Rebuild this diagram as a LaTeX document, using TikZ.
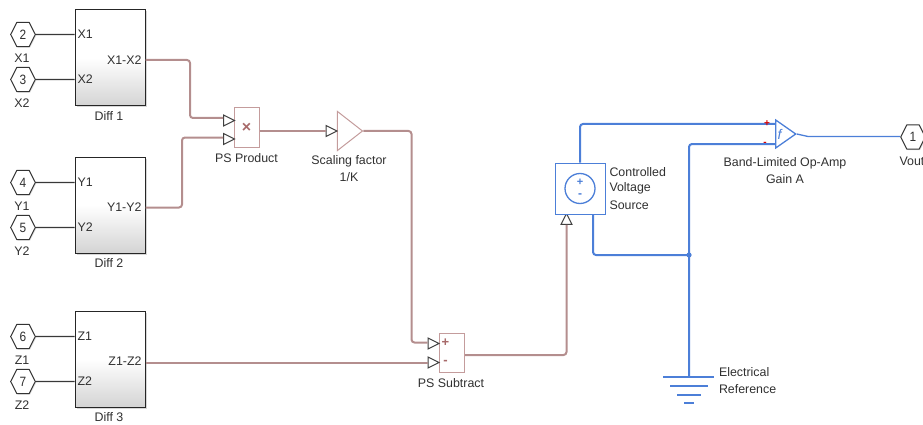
\documentclass[tikz,border=0pt]{standalone}
\usepackage{fontspec}
\setmainfont{Liberation Sans}
\usetikzlibrary{shapes.geometric,shadows,calc}
\definecolor{wirered}{HTML}{B48E8E}
\definecolor{boxred}{HTML}{C49C9C}
\definecolor{markred}{HTML}{A86A6A}
\definecolor{elecblue}{HTML}{4C7FD8}
\definecolor{txt}{HTML}{303030}
\tikzset{
  lbl/.style={font=\fontsize{12.4}{14}\selectfont,text=txt,inner sep=0pt,outer sep=0pt},
  lblw/.style={lbl,anchor=west},
  lble/.style={lbl,anchor=east},
  subsys/.style={draw=black!85,line width=1pt,minimum width=70pt,minimum height=96pt,inner sep=0pt,
    top color=white,bottom color=black!17,middle color=white,
    drop shadow={shadow xshift=1.5pt,shadow yshift=-1.5pt,fill=black!35,opacity=.45}},
  hexport/.style={regular polygon,regular polygon sides=6,transform shape,xscale=.88,draw=black!80,fill=white,line width=1pt,line join=round,
    minimum size=28pt,inner sep=0pt,font=\fontsize{13.5}{14}\selectfont,text=txt,
    drop shadow={shadow xshift=1pt,shadow yshift=-1pt,fill=black!35,opacity=.35}},
  sig/.style={draw=black!78,line width=1.2pt},
  pswire/.style={draw=wirered,line width=2pt,rounded corners=3pt},
  elwire/.style={draw=elecblue,line width=2pt,rounded corners=3pt},
  psbox/.style={draw=boxred,line width=1pt,fill=white,inner sep=0pt},
  ptri/.style={isosceles triangle,isosceles triangle apex angle=55,isosceles triangle stretches,draw=black!75,fill=white,line width=1pt,
    minimum width=11pt,minimum height=11pt,inner sep=0pt},
  gndbar/.style={draw=elecblue,line width=1.5pt},
}
\begin{document}
\begin{tikzpicture}[x=1pt,y=-1pt]
\useasboundingbox (0,0) rectangle (923,425);
% subsystem blocks
\node[subsys] (d1) at (110,58) {};
\node[subsys] (d2) at (110,205) {};
\node[subsys] (d3) at (110,359) {};
\node[lbl] (d1l) at (109,116) {Diff 1};
\node[lbl] (d2l) at (109,263) {Diff 2};
\node[lbl] (d3l) at (109,417) {Diff 3};
% input hexagons
\node[hexport] (h2) at (23,34.5) {2};
\node[hexport] (h3) at (23,79.5) {3};
\node[hexport] (h4) at (23,182.5) {4};
\node[hexport] (h5) at (23,227.5) {5};
\node[hexport] (h6) at (23,336.5) {6};
\node[hexport] (h7) at (23,381.5) {7};
\node[lbl] (l2) at (22,58) {X1};
\node[lbl] (l3) at (22,103) {X2};
\node[lbl] (l4) at (22,206) {Y1};
\node[lbl] (l5) at (22,251) {Y2};
\node[lbl] (l6) at (22,360) {Z1};
\node[lbl] (l7) at (22,405) {Z2};
\draw[sig] (h2.east) -- (h2 -| d1.west);
\draw[sig] (h3.east) -- (h3 -| d1.west);
\draw[sig] (h4.east) -- (h4 -| d2.west);
\draw[sig] (h5.east) -- (h5 -| d2.west);
\draw[sig] (h6.east) -- (h6 -| d3.west);
\draw[sig] (h7.east) -- (h7 -| d3.west);
\node[lblw] (x1) at (77.5,34.5) {X1};
\node[lblw] (x2) at (77.5,79.5) {X2};
\node[lblw] (y1) at (77.5,182.5) {Y1};
\node[lblw] (y2) at (77.5,227.5) {Y2};
\node[lblw] (z1) at (77.5,336.5) {Z1};
\node[lblw] (z2) at (77.5,381.5) {Z2};
\node[lble] (xo) at (141.5,60) {X1-X2};
\node[lble] (yo) at (141.5,207.5) {Y1-Y2};
\node[lble] (zo) at (141.5,361.5) {Z1-Z2};
% PS blocks
\node[psbox,minimum width=25pt,minimum height=39pt] (prod) at (246.5,127.5) {\fontsize{16}{16}\selectfont\bfseries\textcolor{markred}{×}};
\node[lbl] (prodl) at (246.5,158) {PS Product};
\node[ptri] (pa) at (227,120.5) {};
\node[ptri] (pb) at (227,139) {};
\node[isosceles triangle,isosceles triangle apex angle=60,isosceles triangle stretches,draw=boxred,line width=1pt,fill=white,minimum width=39pt,minimum height=25pt,inner sep=0pt] (gain) at (347,131) {};
\node[ptri] (pg) at (329.5,131) {};
\node[lbl] (gl1) at (349,161) {Scaling factor};
\node[lbl] (gl2) at (349,177) {1/K};
\node[psbox,minimum width=25pt,minimum height=39pt] (sub) at (452,352.5) {};
\node[font=\fontsize{13}{13}\selectfont\bfseries,text=markred,inner sep=0pt] (subp) at (445.5,342.5) {+};
\node[font=\fontsize{13}{13}\selectfont\bfseries,text=markred,inner sep=0pt] (subm) at (445.5,362) {-};
\node[lbl] (subl) at (451,383) {PS Subtract};
\node[ptri] (pc) at (431.5,343.5) {};
\node[ptri] (pd) at (431.5,362.5) {};
\node[ptri,rotate=90] (pv) at (566.5,221) {};
% PS wires
\draw[pswire] (d1.east |- xo) -- (190,60) -- (190,118) -- (pa.west |- 0,118);
\draw[pswire] (d2.east |- yo) -- (182,207.5) -- (182,137.5) -- (pb.west |- 0,137.5);
\draw[pswire] (prod.east |- pg) -- (pg.west);
\draw[pswire] (gain.apex) -- (411.5,131) -- (411.5,342.5) -- (pc.west |- 0,342.5);
\draw[pswire] (d3.east |- pd) -- (pd.west);
\draw[pswire] (sub.east |- 0,355) -- (pv.west |- 0,355) -- (pv.west);
% Controlled voltage source
\node[draw=elecblue,line width=1pt,fill=white,minimum width=50pt,minimum height=51pt,inner sep=0pt] (cvs) at (580,188.5) {};
\node[circle,draw=elecblue,line width=1.3pt,minimum size=30pt,inner sep=0pt] (cvc) at (580,188.5) {};
\node[font=\fontsize{11}{11}\selectfont\bfseries,text=elecblue,inner sep=0pt] (cvp) at (580,182) {+};
\node[font=\fontsize{12}{12}\selectfont\bfseries,text=elecblue,inner sep=0pt] (cvm) at (580,196) {-};
\node[lblw] (cv1) at (609.5,172) {Controlled};
\node[lblw] (cv2) at (609.5,188.5) {Voltage};
\node[lblw] (cv3) at (609.5,205) {Source};
% op amp
\node[isosceles triangle,isosceles triangle apex angle=70,isosceles triangle stretches,draw=elecblue,line width=1.3pt,fill=white,minimum width=28pt,minimum height=20pt,inner sep=0pt] (op) at (783,134) {};
\node[font=\fontsize{14}{14}\selectfont\itshape,text=elecblue,inner sep=0pt] (opf) at (779.5,134.5) {f};
\node[lbl] (opl1) at (785,163) {Band-Limited Op-Amp};
\node[lbl] (opl2) at (785,179) {Gain A};
\node[hexport] (h1) at (913,137) {1};
\node[lbl] (l1) at (912,161) {Vout};
% ground
\coordinate (gnd) at (689,377);
\draw[gndbar] (663,377) -- (gnd) -- (714,377);
\draw[gndbar] (670,386) -- (708,386);
\draw[gndbar] (677,395) -- (701,395);
\draw[gndbar] (684,403) -- (694,403);
\node[lblw] (gr1) at (719,372) {Electrical};
\node[lblw] (gr2) at (719,389) {Reference};
% electrical wires
\coordinate (jn) at (689,255);
\draw[elwire] (cvs.north) -- (580,124) -- (op.west |- 0,124);
\draw[elwire] (593,214) -- (593,255) -- (jn);
\draw[elwire] (gnd) -- (jn) -- (689,144) -- (op.west |- 0,144);
\fill[elecblue] (jn) circle (2.6pt);
\draw[draw=elecblue,line width=1.3pt] (op.apex) -- (808,136.5) -- (h1.west |- 0,136.5);
\node[font=\fontsize{10}{10}\selectfont\bfseries,text=red!85!black,inner sep=0pt] (opp) at (767,124) {+};
\node[font=\fontsize{10}{10}\selectfont\bfseries,text=red!85!black,inner sep=0pt] (opm) at (765,144) {-};
\end{tikzpicture}
\end{document}
